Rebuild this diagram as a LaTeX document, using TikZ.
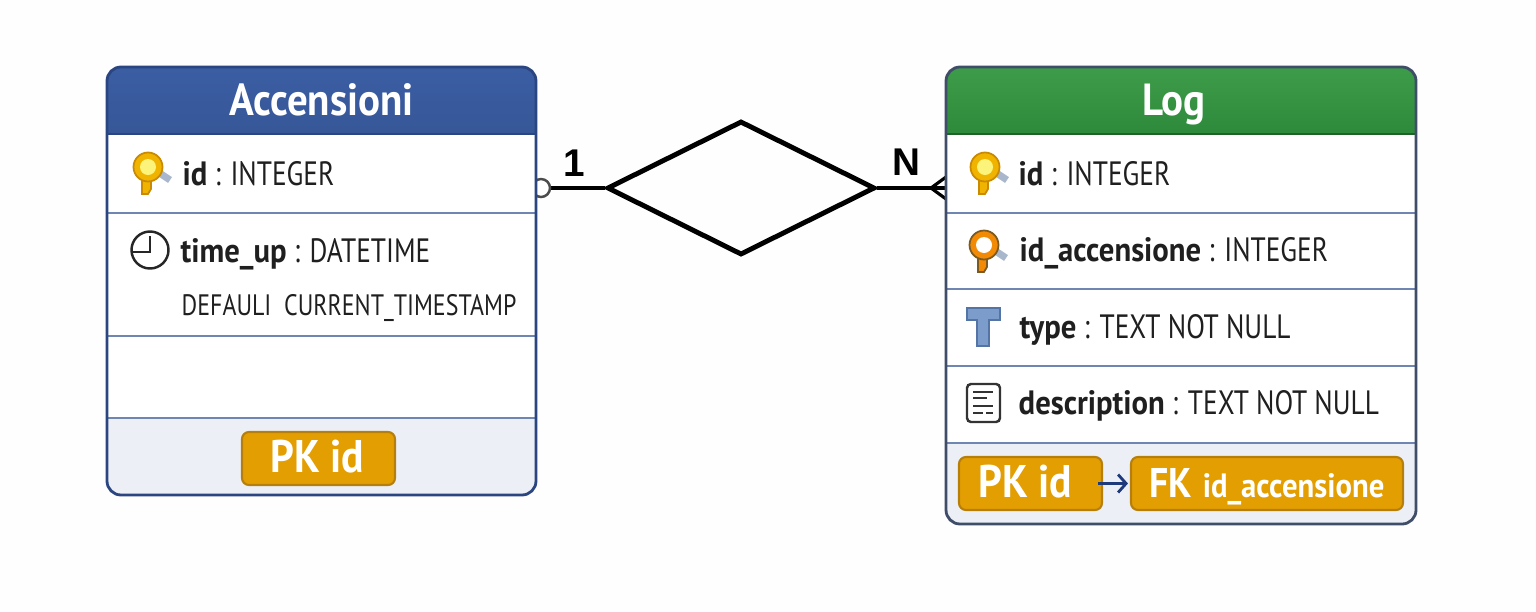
\documentclass[tikz,border=0pt]{standalone}
\usepackage{fontspec}
\setmainfont{PT Sans}[FakeStretch=0.81, BoldFeatures={FakeStretch=0.91}]
\newfontfamily\labelfont{Liberation Sans}
\usetikzlibrary{shapes.geometric, arrows.meta}
\definecolor{bluehead}{HTML}{3B5DA3}
\definecolor{blueheadlow}{HTML}{365797}
\definecolor{blueline}{HTML}{2A4580}
\definecolor{greenhead}{HTML}{3D9C49}
\definecolor{greenheadlow}{HTML}{2E8A3B}
\definecolor{logline}{HTML}{3F4D68}
\definecolor{sepline}{HTML}{6F86B3}
\definecolor{footfill}{HTML}{ECEFF6}
\definecolor{badgefill}{HTML}{E39E02}
\definecolor{badgeline}{HTML}{B67F0C}
\definecolor{arrowblue}{HTML}{1F3A7A}
\definecolor{keygold}{HTML}{F0B400}
\definecolor{keyrim}{HTML}{C98A00}
\definecolor{keyeye}{HTML}{FBF37A}
\definecolor{keyorange}{HTML}{F28A05}
\definecolor{keydark}{HTML}{7A5A20}
\definecolor{keyhandle}{HTML}{A9B7CC}
\definecolor{typefill}{HTML}{7C9CCB}
\definecolor{typeline}{HTML}{5474A6}
\tikzset{
  rowtext/.style={anchor=base west, inner sep=0pt, text=black!88, font=\fontsize{9.6}{11}\selectfont},
  headtext/.style={anchor=base, inner sep=0pt, text=white, font=\fontsize{12.8}{14}\selectfont\bfseries},
  badge/.style={draw=badgeline, line width=0.6pt, fill=badgefill, rounded corners=0.07cm, inner sep=0pt,
    text height=0.32cm, text depth=0.04cm, text=white, font=\fontsize{13}{15}\selectfont\bfseries},
  sepline/.style={draw=sepline, line width=0.5pt},
  cardinal/.style={inner sep=0pt, font=\fontsize{11}{13}\selectfont\labelfont\bfseries},
}
% key icon: position, rim, body, eye
\newcommand{\keyicon}[4]{
  \begin{scope}[shift={#1}]
    \draw[line width=2pt, keyhandle] (0.1,-0.05) -- (0.22,-0.13);
    \fill[#3, draw=#2, line width=0.5pt] (-0.06,-0.1) -- (-0.06,-0.27) -- (0.0,-0.27) -- (0.03,-0.22) -- (0.03,-0.1) -- cycle;
    \draw[#2, line width=0.5pt, fill=#3] (0,0) circle (0.145);
    \fill[#4] (0,0) circle (0.08);
  \end{scope}
}
\begin{document}
\begin{tikzpicture}
  \useasboundingbox (0,0) rectangle (15.36,6.11);
  \fill[white!99.5!black] (0,0) rectangle (15.36,6.11);

  % Relationship
  \node[diamond, draw=black, line width=1.4pt, minimum width=2.68cm, minimum height=1.34cm,
    aspect=2, inner sep=0pt] (rel) at (7.41,4.23) {};
  \coordinate (oneend) at (5.41,4.23);
  \coordinate (manyend) at (9.46,4.23);
  \draw[black, line width=1.2pt] (oneend) -- (rel.west);
  \draw[black, line width=1.2pt] (rel.east) -- (manyend);
  \draw[black!70, line width=0.7pt, fill=white] (oneend) circle (0.09);
  \draw[black, line width=0.9pt] (9.46,4.34) -- (9.31,4.23) -- (9.46,4.12);
  \node[cardinal] (onelabel) at (5.74,4.48) {1};
  \node[cardinal] (manylabel) at (9.06,4.49) {N};

  % Table Accensioni
  \fill[white, rounded corners=0.14cm] (1.07,1.16) rectangle (5.36,5.44);
  \shade[top color=bluehead, bottom color=blueheadlow] (1.07,4.77) [rounded corners=0.14cm] -- (1.07,5.44) -- (5.36,5.44) [sharp corners] -- (5.36,4.77) -- cycle;
  \fill[footfill] (1.07,1.93) [rounded corners=0.14cm] -- (1.07,1.16) -- (5.36,1.16) [sharp corners] -- (5.36,1.93) -- cycle;
  \draw[sepline] (1.07,3.98) -- (5.36,3.98);
  \draw[sepline] (1.07,2.75) -- (5.36,2.75);
  \draw[sepline] (1.07,1.93) -- (5.36,1.93);
  \draw[blueline, line width=0.5pt] (1.07,4.77) -- (5.36,4.77);
  \draw[blueline, line width=0.8pt, rounded corners=0.14cm] (1.07,1.16) rectangle (5.36,5.44);
  \node[headtext] (acchead) at (3.215,4.96) {Accensioni};
  \keyicon{(1.48,4.44)}{keyrim}{keygold}{keyeye}
  \node[rowtext] (accid) at (1.82,4.26) {\textbf{id} : INTEGER};
  % clock
  \draw[black!85, line width=0.7pt] (1.5,3.61) circle (0.185);
  \draw[black!85, line width=0.7pt] (1.5,3.75) -- (1.5,3.59) -- (1.33,3.59);
  \node[rowtext] (acctime) at (1.8,3.49) {\textbf{time\_up} : DATETIME};
  \node[rowtext, font=\fontsize{8.4}{10}\selectfont] (accdefault) at (1.81,2.96) {DEFAULI\ \ CURRENT\_TIMESTAMP};
  \node[badge, minimum width=1.53cm, minimum height=0.53cm] (accpk) at (3.185,1.525) {PK id\kern0.02cm};

  % Table Log
  \fill[white, rounded corners=0.14cm] (9.46,0.87) rectangle (14.16,5.44);
  \shade[top color=greenhead, bottom color=greenheadlow] (9.46,4.77) [rounded corners=0.14cm] -- (9.46,5.44) -- (14.16,5.44) [sharp corners] -- (14.16,4.77) -- cycle;
  \fill[footfill] (9.46,1.68) [rounded corners=0.14cm] -- (9.46,0.87) -- (14.16,0.87) [sharp corners] -- (14.16,1.68) -- cycle;
  \draw[sepline] (9.46,3.98) -- (14.16,3.98);
  \draw[sepline] (9.46,3.22) -- (14.16,3.22);
  \draw[sepline] (9.46,2.45) -- (14.16,2.45);
  \draw[sepline] (9.46,1.68) -- (14.16,1.68);
  \draw[greenheadlow!70!black, line width=0.5pt] (9.46,4.77) -- (14.16,4.77);
  \draw[logline, line width=0.8pt, rounded corners=0.14cm] (9.46,0.87) rectangle (14.16,5.44);
  \node[headtext] (loghead) at (11.74,4.96) {Log};
  \keyicon{(9.85,4.44)}{keyrim}{keygold}{keyeye}
  \node[rowtext] (logid) at (10.18,4.26) {\textbf{id} : INTEGER};
  \keyicon{(9.84,3.66)}{keydark}{keyorange}{white}
  \node[rowtext] (logfk) at (10.19,3.5) {\textbf{id\_accensione} : INTEGER};
  % type icon
  \draw[typeline, line width=0.6pt, fill=typefill]
    (9.67,3.03) -- (10,3.03) -- (10,2.91) -- (9.89,2.91) -- (9.89,2.65) -- (9.77,2.65) -- (9.77,2.91) -- (9.67,2.91) -- cycle;
  \node[rowtext] (logtype) at (10.19,2.73) {\textbf{type} : TEXT NOT NULL};
  % description icon
  \draw[black!80, line width=0.7pt, rounded corners=0.04cm] (9.67,1.89) rectangle (10,2.27);
  \draw[black!80, line width=0.8pt] (9.73,2.19) -- (9.93,2.19) (9.73,2.13) -- (9.87,2.13) (9.73,2.05) -- (9.93,2.05) (9.73,1.98) -- (9.83,1.98) (9.86,1.98) -- (9.93,1.98);
  \node[rowtext] (logdesc) at (10.18,1.97) {\textbf{description} : TEXT NOT NULL};
  \node[badge, minimum width=1.43cm, minimum height=0.53cm] (logpk) at (10.305,1.275) {PK id\kern0.1cm};
  \node[badge, minimum width=2.72cm, minimum height=0.53cm] (logfkbadge) at (12.67,1.275) {{\fontsize{11.8}{14}\selectfont FK} {\fontsize{9.6}{12}\selectfont id\_accensione}};
  \draw[arrowblue, line width=0.8pt, -{Straight Barb[length=0.08cm,width=0.18cm]}, shorten >=0.02cm] (logpk.east) ++(-0.05,0) coordinate (arrowstart) (arrowstart) -- (logfkbadge.west);
\end{tikzpicture}
\end{document}
